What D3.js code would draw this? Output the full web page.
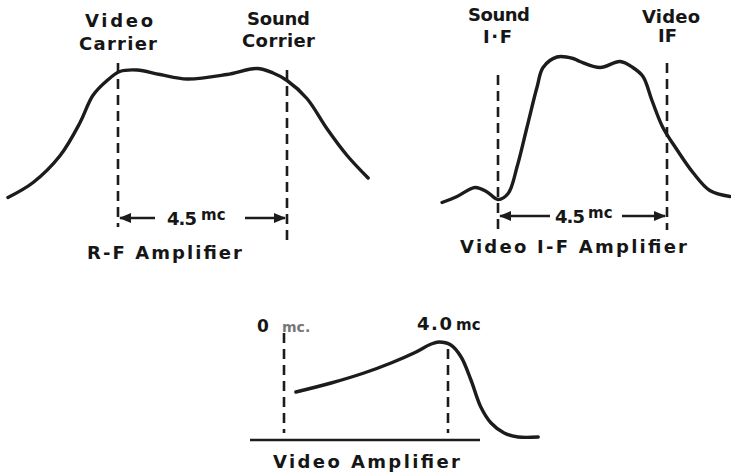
<!DOCTYPE html>
<html><head><meta charset="utf-8">
<script src="https://cdn.jsdelivr.net/npm/d3@7"></script>
<style>
html,body{margin:0;padding:0;background:#fff;}
text{font-family:"DejaVu Sans",sans-serif;font-weight:bold;fill:#161616;}
</style></head>
<body>
<svg id="c" width="731" height="472"></svg>
<script>
// ---- Data (frequency in mc, relative response) ----
const rfFreq = [-2.93,-2.26,-1.54,-1.01,-0.67,-0.29,0.05,0.51,1.12,1.84,2.90,3.70,4.13,4.50,5.03,5.56,6.10,6.66];
const rfResp = [0.15,0.25,0.43,0.65,0.83,0.93,0.99,1.00,0.97,0.94,0.97,1.01,0.98,0.93,0.81,0.61,0.43,0.28];
const rfMarks = [0, 4.5];

const ifFreq = [-1.49,-1.09,-0.61,-0.29,0,0.27,0.51,0.77,1.04,1.20,1.57,2.00,2.18,2.72,3.25,3.59,3.86,4.10,4.39,4.77,5.19,5.64,6.18];
const ifResp = [0.05,0.09,0.15,0.12,0.07,0.11,0.29,0.55,0.82,0.95,1.02,1.01,0.99,0.95,0.99,0.95,0.89,0.73,0.55,0.40,0.25,0.13,0.09];
const ifMarks = [0, 4.5];

const vaFreq = [0.29,1.15,1.95,2.61,3.17,3.59,3.78,4.07,4.32,4.56,4.80,5.05,5.37,5.71,6.20];
const vaResp = [0.50,0.59,0.69,0.79,0.89,0.98,1.00,0.97,0.85,0.62,0.35,0.19,0.09,0.05,0.05];
const vaMarks = [0, 4.0];

const rfLabels = ["Video","Carrier","Sound","Corrier","R-F Amplifier"];
const ifLabels = ["Sound","I·F","Video","IF","Video I-F Amplifier"];
const vaLabels = ["0","mc.","4.0","mc","Video Amplifier"];
const spanLabel = ["4.5","mc"];

// ---- Drawing ----
const svg = d3.select("#c");
const ink = "#1c1c1c";

const panels = [
  {freq:rfFreq, resp:rfResp, marks:rfMarks,
   x:d3.scaleLinear().domain([0,4.5]).range([118,287]),
   y:d3.scaleLinear().domain([0,1]).range([220,70]),
   dash:[[63,227],[70,240]]},
  {freq:ifFreq, resp:ifResp, marks:ifMarks,
   x:d3.scaleLinear().domain([0,4.5]).range([498,667]),
   y:d3.scaleLinear().domain([0,1]).range([210,60]),
   dash:[[75,233],[63,230]]},
  {freq:vaFreq, resp:vaResp, marks:vaMarks,
   x:d3.scaleLinear().domain([0,4]).range([284,448]),
   y:d3.scaleLinear().domain([0,1]).range([442,342]),
   dash:[[333,433],[349,433]]}
];

panels.forEach(p=>{
  const pts = p.freq.map((f,i)=>[f,p.resp[i]]);
  const line = d3.line().x(d=>p.x(d[0])).y(d=>p.y(d[1])).curve(d3.curveCatmullRom.alpha(0.5));
  svg.append("path").attr("d",line(pts)).attr("fill","none")
     .attr("stroke",ink).attr("stroke-width",3.4).attr("stroke-linecap","round").attr("stroke-linejoin","round");
  p.marks.forEach((m,i)=>{
    svg.append("line").attr("x1",p.x(m)).attr("x2",p.x(m))
      .attr("y1",p.dash[i][0]).attr("y2",p.dash[i][1])
      .attr("stroke",ink).attr("stroke-width",2.6).attr("stroke-dasharray","10,6");
  });
});

// baseline of video amplifier
svg.append("line").attr("x1",250).attr("x2",480).attr("y1",440).attr("y2",440)
  .attr("stroke",ink).attr("stroke-width",2.6);

function txt(s,x,y,w,size,opts){
  const t = svg.append("text").attr("x",x).attr("y",y).text(s)
    .style("font-size",size+"px");
  if(w) t.attr("textLength",w).attr("lengthAdjust","spacing");
  if(opts&&opts.fill) t.style("fill",opts.fill);
  return t;
}

// panel 1 labels
txt(rfLabels[0],85,27,68,18);
txt(rfLabels[1],79,50,78,18);
txt(rfLabels[2],247,25,63,18);
txt(rfLabels[3],242,47,73,18);
txt(rfLabels[4],87,259,155,18);
// panel 2 labels
txt(ifLabels[0],468,21,62,18);
txt(ifLabels[1],483,43,29,18);
txt(ifLabels[2],642,23,58,18);
txt(ifLabels[3],658,42,null,18);
txt(ifLabels[4],460,253,227,18);
// panel 3 labels
txt(vaLabels[0],257,332,null,17);
txt(vaLabels[1],282,332,null,14,{fill:"#777"});
txt(vaLabels[2],417,330,35,18);
txt(vaLabels[3],456,330,null,15);
txt(vaLabels[4],273,468,187,18);

// dimension arrows
function span(p, y, t1x, t2x, gapL, gapR){
  const xa = p.x(p.marks[0]), xb = p.x(p.marks[1]);
  svg.append("line").attr("x1",xa+2).attr("x2",gapL).attr("y1",y).attr("y2",y).attr("stroke",ink).attr("stroke-width",2.4);
  svg.append("line").attr("x1",gapR).attr("x2",xb-2).attr("y1",y).attr("y2",y).attr("stroke",ink).attr("stroke-width",2.4);
  svg.append("path").attr("d",`M${xa+1},${y} l12,-5 l0,10 Z`).attr("fill",ink);
  svg.append("path").attr("d",`M${xb-1},${y} l-12,-5 l0,10 Z`).attr("fill",ink);
  txt(spanLabel[0],t1x,y+7,30,18);
  txt(spanLabel[1],t2x,y+2,null,15);
}
span(panels[0],218,167,201,155,245);
span(panels[1],216,555,588,550,622);
</script>
</body></html>
